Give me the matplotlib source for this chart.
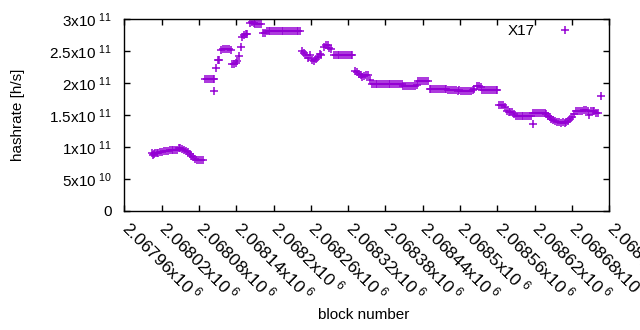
import matplotlib
matplotlib.use("Agg")
import matplotlib.pyplot as plt
import matplotlib.transforms as mtransforms
import numpy as np

plt.rcParams['font.family'] = ['Liberation Sans', 'DejaVu Sans']
plt.rcParams['mathtext.default'] = 'regular'

# hashrate per block, in GH/s
blocks = [
    2068004, 2068006, 2068008, 2068010, 2068012, 2068015, 2068018, 2068021, 2068024, 2068027,
    2068030, 2068033, 2068036, 2068039, 2068042, 2068045, 2068048, 2068050, 2068053, 2068056,
    2068059, 2068062, 2068065, 2068068, 2068071, 2068074, 2068077, 2068080, 2068083, 2068086,
    # jump
    2068090, 2068093, 2068096, 2068099, 2068102, 2068105, 2068104, 2068107, 2068110, 2068113,
    2068116, 2068119, 2068122, 2068125, 2068128, 2068131,
    2068134, 2068137, 2068140, 2068142, 2068145, 2068147, 2068149, 2068152, 2068155, 2068158,
    2068162, 2068165, 2068168, 2068171, 2068174, 2068177, 2068180, 2068183, 2068186,
    2068189, 2068192, 2068195, 2068198, 2068201, 2068204, 2068207, 2068210, 2068213, 2068216,
    2068219, 2068222, 2068225, 2068228, 2068231, 2068234, 2068237, 2068240, 2068243,
    2068246, 2068249, 2068252, 2068255, 2068258, 2068262, 2068265, 2068268, 2068271, 2068274,
    2068277, 2068281, 2068284, 2068287, 2068290, 2068293,
    2068297, 2068300, 2068303, 2068306, 2068309, 2068312, 2068315, 2068318, 2068321, 2068324, 2068327,
    2068331, 2068334, 2068337, 2068340, 2068343, 2068346, 2068349, 2068352, 2068355,
    2068358, 2068361, 2068364, 2068367, 2068370, 2068373, 2068376, 2068379, 2068382, 2068385,
    2068388, 2068391, 2068394, 2068397, 2068400, 2068403, 2068406,
    2068409, 2068412, 2068415, 2068418, 2068421, 2068424, 2068427, 2068430,
    2068433, 2068436, 2068439, 2068442, 2068445, 2068448,
    2068451, 2068454, 2068457, 2068460, 2068463, 2068466, 2068469, 2068472, 2068475, 2068478,
    2068481, 2068484, 2068487, 2068490, 2068493, 2068496, 2068499, 2068502, 2068505, 2068508,
    2068511, 2068514, 2068517, 2068520, 2068523, 2068527, 2068530, 2068533,
    2068536, 2068539, 2068542, 2068545, 2068548, 2068551, 2068554, 2068557, 2068560,
    2068563, 2068566, 2068569, 2068572, 2068575, 2068578, 2068581, 2068584, 2068587,
    2068590, 2068593, 2068596, 2068599, 2068602, 2068605, 2068608, 2068611, 2068614,
    2068617, 2068618, 2068621, 2068624, 2068627, 2068630, 2068633, 2068636, 2068639,
    2068641, 2068644, 2068647, 2068650, 2068653, 2068656, 2068659, 2068662, 2068665, 2068668,
    2068671, 2068674, 2068677, 2068680,
    2068684, 2068687, 2068690, 2068693, 2068696, 2068699, 2068702, 2068705, 2068708, 2068710,
    2068713, 2068716, 2068719, 2068722, 2068726,
]
hashrate_gh = [
    91, 88, 89, 90, 90, 91, 92, 92, 93, 93,
    94, 95, 95, 95, 95, 96, 98, 99, 97, 95,
    94, 92, 89, 86, 84, 81, 80, 79, 80, 80,
    206, 206, 206, 206, 206, 206, 188, 223, 236, 236,
    252, 253, 253, 253, 253, 252,
    229, 229, 231, 235, 242, 256, 272, 275, 276, 277,
    294, 295, 293, 292, 292, 292, 292, 278, 278,
    282, 282, 282, 282, 282, 282, 282, 282, 282, 282,
    282, 282, 282, 282, 282, 282, 282, 282, 282,
    250, 247, 244, 239, 244, 236, 235, 237, 241, 245,
    244, 257, 260, 259, 254, 253,
    244, 244, 244, 244, 244, 244, 244, 244, 244, 244, 244,
    218, 217, 214, 212, 210, 211, 213, 213, 205,
    199, 199, 199, 199, 199, 199, 199, 199, 199, 199,
    199, 199, 199, 199, 199, 199, 199,
    196, 196, 196, 196, 196, 196, 196, 197,
    203, 203, 203, 203, 203, 203,
    190, 190, 190, 190, 190, 190, 190, 190, 190, 190,
    189, 189, 189, 189, 189, 188, 189, 188, 188, 188,
    188, 187, 188, 189, 190, 195, 196, 193,
    189, 189, 189, 189, 189, 189, 189, 189, 189,
    165, 165, 165, 163, 157, 155, 155, 154, 151,
    149, 149, 149, 149, 149, 149, 149, 149, 149,
    136, 153, 153, 153, 153, 153, 153, 153, 152,
    149, 147, 144, 142, 140, 139, 139, 138, 139, 138,
    139, 141, 143, 147,
    152, 156, 157, 157, 157, 158, 158, 156, 150, 157,
    157, 156, 153, 153, 180,
]

xtick_vals = [2067960, 2068020, 2068080, 2068140, 2068200, 2068260, 2068320,
              2068380, 2068440, 2068500, 2068560, 2068620, 2068680, 2068740]
xtick_labels = ['2.06796', '2.06802', '2.06808', '2.06814', '2.0682', '2.06826', '2.06832',
                '2.06838', '2.06844', '2.0685', '2.06856', '2.06862', '2.06868', '2.06874']
ytick_vals = [0, 5e10, 1e11, 1.5e11, 2e11, 2.5e11, 3e11]
ytick_labels = ['0', r'5x10$^{\ 10}$', r'1x10$^{\ 11}$', r'1.5x10$^{\ 11}$', r'2x10$^{\ 11}$',
                r'2.5x10$^{\ 11}$', r'3x10$^{\ 11}$']

fig = plt.figure(figsize=(6.4, 3.3), dpi=100)
ax = fig.add_axes([124.3 / 640, 1 - 211 / 330, 485 / 640, 192 / 330])

hashrate = np.array(hashrate_gh) * 1e9
ax.plot(blocks, hashrate, linestyle='none', marker='+', markersize=5.2,
        markeredgewidth=1.1, color='#9400d3', label='X17')

ax.set_xlim(2067960, 2068740)
ax.set_ylim(0, 3e11)
ax.set_xticks(xtick_vals)
ax.set_xticklabels([s + r'x10$^{\ 6}$' for s in xtick_labels], rotation=-45,
                   ha='left', va='top', rotation_mode='anchor', fontsize=12.5)
ax.set_yticks(ytick_vals)
ax.set_yticklabels(ytick_labels, fontsize=11)
ax.tick_params(direction='in', length=4, width=1, top=True, right=True)
ax.tick_params(axis='x', pad=4.7)
ax.tick_params(axis='y', pad=9)
for s in ax.spines.values():
    s.set_linewidth(1)

shift = mtransforms.ScaledTranslation(5.9 / 72, 0, fig.dpi_scale_trans)
for lbl in ax.get_xticklabels():
    lbl.set_transform(lbl.get_transform() + shift)

fig.text(18 / 640, 1 - 115 / 330, 'hashrate [h/s]', rotation=90,
         ha='center', va='center', fontsize=11)
fig.text(364 / 640, 1 - 315 / 330, 'block number', ha='center', va='center', fontsize=11)

ax.legend(loc='center right', bbox_to_anchor=(580 / 640, 1 - 31 / 330),
          bbox_transform=fig.transFigure, frameon=False, markerfirst=False,
          handletextpad=1.0, handlelength=2, borderpad=0, borderaxespad=0, fontsize=11)

fig.savefig('out.png', dpi=100)
